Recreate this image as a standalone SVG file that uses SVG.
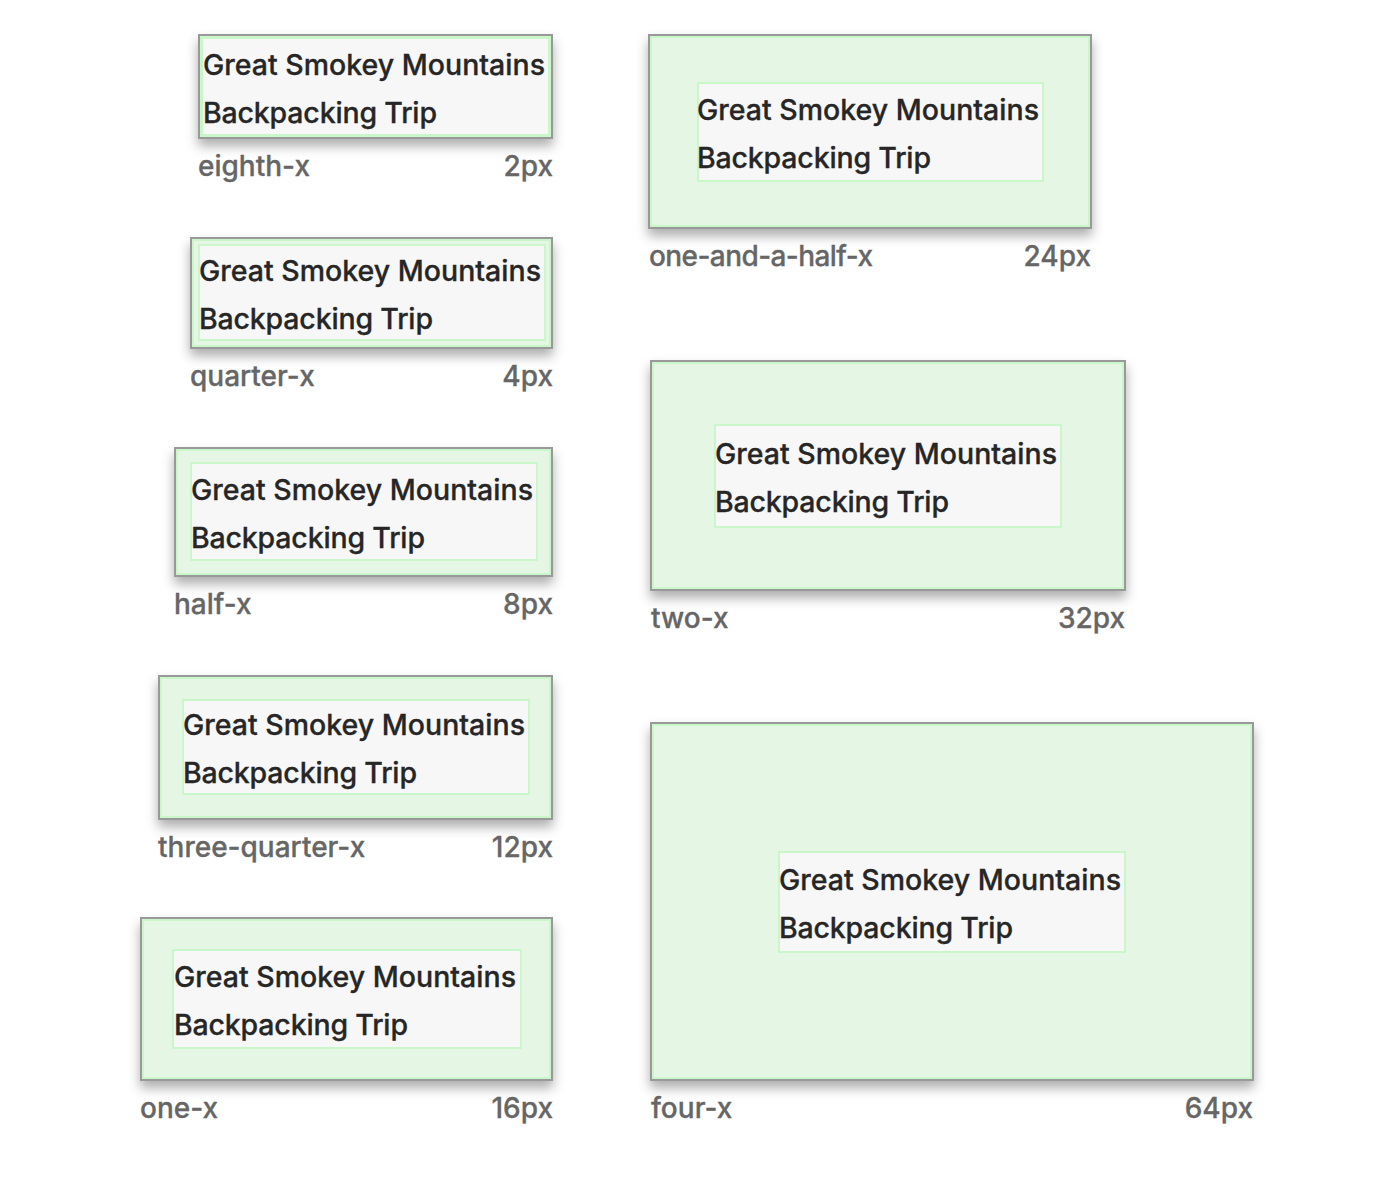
<svg xmlns="http://www.w3.org/2000/svg" width="1380" height="1204" viewBox="0 0 1380 1204">
<style>
.outer{fill:#e6f6e4;stroke:#999999;stroke-width:2}
.band{fill:none;stroke:#c9f7c9;stroke-width:2}
.inner{fill:#f7f7f7;stroke:#c9f7c9;stroke-width:2}
.t{font-family:Inter,"Liberation Sans",sans-serif;font-weight:500;font-size:28.5px;fill:#262626;stroke:#262626;stroke-width:0.3}
.l{font-family:Inter,"Liberation Sans",sans-serif;font-weight:500;font-size:28px;fill:#666666;stroke:#666666;stroke-width:0.3}
.r{text-anchor:end}
</style>
<defs>
<filter id="sh" x="-10%" y="-10%" width="120%" height="140%">
<feDropShadow dx="0" dy="7" stdDeviation="6" flood-color="#000" flood-opacity="0.32"/>
</filter>
</defs>
<rect width="1380" height="1204" fill="#ffffff"/>
<g id="connectors"></g>
<g id="eighth-x">
<rect class="outer" x="199" y="35" width="353" height="103" filter="url(#sh)"/>
<rect class="band" x="201" y="37" width="349" height="99"/>
<rect class="inner" x="202" y="38" width="347" height="97"/>
<text class="t" x="203" y="75" textLength="342">Great Smokey Mountains</text>
<text class="t" x="203" y="123" textLength="234">Backpacking Trip</text>
<text class="l" x="198" y="176">eighth-x</text>
<text class="l r" x="553" y="176">2px</text>
</g>
<g id="quarter-x">
<rect class="outer" x="191" y="238" width="361" height="110" filter="url(#sh)"/>
<rect class="band" x="193" y="240" width="357" height="106"/>
<rect class="inner" x="199" y="245" width="346" height="95"/>
<text class="t" x="199" y="281" textLength="342">Great Smokey Mountains</text>
<text class="t" x="199" y="329" textLength="234">Backpacking Trip</text>
<text class="l" x="190" y="386">quarter-x</text>
<text class="l r" x="553" y="386">4px</text>
</g>
<g id="half-x">
<rect class="outer" x="175" y="448" width="377" height="128" filter="url(#sh)"/>
<rect class="band" x="177" y="450" width="373" height="124"/>
<rect class="inner" x="191" y="463" width="346" height="97"/>
<text class="t" x="191" y="500" textLength="342">Great Smokey Mountains</text>
<text class="t" x="191" y="548" textLength="234">Backpacking Trip</text>
<text class="l" x="174" y="614">half-x</text>
<text class="l r" x="553" y="614">8px</text>
</g>
<g id="three-quarter-x">
<rect class="outer" x="159" y="676" width="393" height="143" filter="url(#sh)"/>
<rect class="band" x="161" y="678" width="389" height="139"/>
<rect class="inner" x="183" y="700" width="346" height="94"/>
<text class="t" x="183" y="735" textLength="342">Great Smokey Mountains</text>
<text class="t" x="183" y="783" textLength="234">Backpacking Trip</text>
<text class="l" x="158" y="857">three-quarter-x</text>
<text class="l r" x="553" y="857">12px</text>
</g>
<g id="one-x">
<rect class="outer" x="141" y="918" width="411" height="162" filter="url(#sh)"/>
<rect class="band" x="143" y="920" width="407" height="158"/>
<rect class="inner" x="173" y="950" width="348" height="98"/>
<text class="t" x="174" y="987" textLength="342">Great Smokey Mountains</text>
<text class="t" x="174" y="1035" textLength="234">Backpacking Trip</text>
<text class="l" x="140" y="1118">one-x</text>
<text class="l r" x="553" y="1118">16px</text>
</g>
<g id="one-and-a-half-x">
<rect class="outer" x="649" y="35" width="442" height="193" filter="url(#sh)"/>
<rect class="band" x="651" y="37" width="438" height="189"/>
<rect class="inner" x="698" y="83" width="345" height="98"/>
<text class="t" x="697" y="120" textLength="342">Great Smokey Mountains</text>
<text class="t" x="697" y="168" textLength="234">Backpacking Trip</text>
<text class="l" x="649" y="266" textLength="224">one-and-a-half-x</text>
<text class="l r" x="1091" y="266">24px</text>
</g>
<g id="two-x">
<rect class="outer" x="651" y="361" width="474" height="229" filter="url(#sh)"/>
<rect class="band" x="653" y="363" width="470" height="225"/>
<rect class="inner" x="715" y="425" width="346" height="102"/>
<text class="t" x="715" y="464" textLength="342">Great Smokey Mountains</text>
<text class="t" x="715" y="512" textLength="234">Backpacking Trip</text>
<text class="l" x="651" y="628">two-x</text>
<text class="l r" x="1125" y="628">32px</text>
</g>
<g id="four-x">
<rect class="outer" x="651" y="723" width="602" height="357" filter="url(#sh)"/>
<rect class="band" x="653" y="725" width="598" height="353"/>
<rect class="inner" x="779" y="852" width="346" height="100"/>
<text class="t" x="779" y="890" textLength="342">Great Smokey Mountains</text>
<text class="t" x="779" y="938" textLength="234">Backpacking Trip</text>
<text class="l" x="651" y="1118">four-x</text>
<text class="l r" x="1253" y="1118">64px</text>
</g>
</svg>
